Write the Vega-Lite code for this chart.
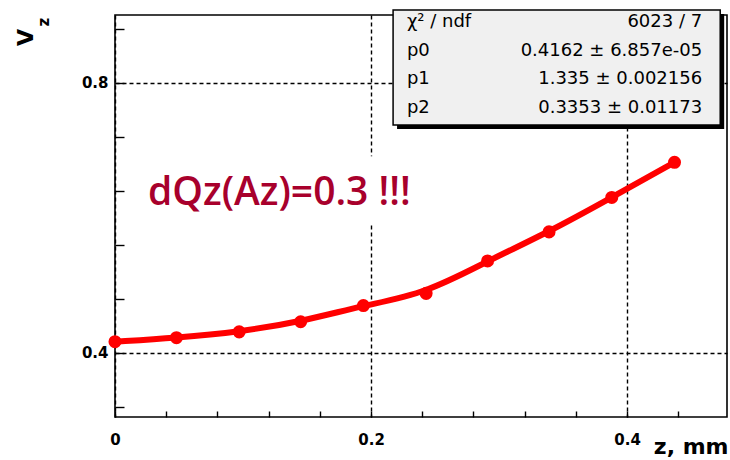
{
  "$schema": "https://vega.github.io/schema/vega-lite/v6.json",
  "width": 612,
  "height": 402,
  "autosize": "none",
  "padding": {"left": 115, "top": 15, "right": 3, "bottom": 43},
  "background": "white",
  "config": {
    "view": {"stroke": "black", "strokeWidth": 1.6},
    "axis": {"labelFlush": false, "labelOverlap": false}
  },
  "datasets": {
    "fit": [
      {"z": 0.0, "v": 0.4164},
      {"z": 0.048, "v": 0.4224},
      {"z": 0.097, "v": 0.431},
      {"z": 0.145, "v": 0.446},
      {"z": 0.194, "v": 0.470},
      {"z": 0.243, "v": 0.488},
      {"z": 0.291, "v": 0.536},
      {"z": 0.339, "v": 0.579},
      {"z": 0.388, "v": 0.630},
      {"z": 0.437, "v": 0.682}
    ],
    "stats": [
      {"names": ["χ² / ndf", "p0", "p1", "p2"],
       "vals": ["6023 / 7", "0.4162 ± 6.857e-05", "1.335 ± 0.002156", "0.3353 ± 0.01173"]}
    ],
    "note": [{"text": "dQz(Az)=0.3 !!!", "sub": "z"}]
  },
  "layer": [
    {
      "data": {"name": "note"},
      "mark": {"type": "rect", "fill": "white"},
      "encoding": {
        "x": {"datum": 0.01, "type": "quantitative"},
        "x2": {"datum": 0.31},
        "y": {"datum": 0.591, "type": "quantitative"},
        "y2": {"datum": 0.691}
      }
    },
    {
      "data": {"name": "fit"},
      "mark": {"type": "line", "color": "#ff0000", "strokeWidth": 6, "interpolate": "basis"},
      "encoding": {
        "x": {"field": "z", "type": "quantitative", "scale": {"domain": [0, 0.478], "nice": false, "zero": false},
          "axis": {"values": [0,0.02,0.04,0.06,0.08,0.1,0.12,0.14,0.16,0.18,0.2,0.22,0.24,0.26,0.28,0.3,0.32,0.34,0.36,0.38,0.4,0.42,0.44,0.46],
            "orient": "bottom",
            "labelExpr": "abs(datum.value*10 - round(datum.value*10)) < 0.001 ? (datum.value == 0 ? '0' : format(datum.value, '.1f')) : ''",
            "grid": true, "gridColor": "black", "gridDash": [4, 3], "gridWidth": 1.4,
            "gridOpacity": {"condition": {"test": "abs(datum.value*10 - round(datum.value*10)) < 0.001", "value": 1}, "value": 0},
            "ticks": true, "tickColor": "black", "tickWidth": 1.4, "tickSize": -6,
            "domain": false, "labelPadding": 21,
            "labelFont": "DejaVu Sans", "labelFontWeight": "bold", "labelFontSize": 15, "labelColor": "black",
            "title": "z, mm", "titleAnchor": "end", "titleAlign": "right", "titleX": 613, "titleY": 36,
            "titleBaseline": "alphabetic", "titleFont": "DejaVu Sans", "titleFontWeight": "bold",
            "titleFontSize": 22, "titleColor": "black"}},
        "y": {"field": "v", "type": "quantitative", "scale": {"domain": [0.305, 0.9], "nice": false, "zero": false},
          "axis": {"values": [0.32,0.34,0.36,0.38,0.4,0.42,0.44,0.46,0.48,0.5,0.52,0.54,0.56,0.58,0.6,0.62,0.64,0.66,0.68,0.7,0.72,0.74,0.76,0.78,0.8,0.82,0.84,0.86,0.88,0.9],
            "orient": "left",
            "labelExpr": "abs(datum.value*10 - round(datum.value*10)) < 0.001 ? format(datum.value, '.1f') : ''",
            "grid": true, "gridColor": "black", "gridDash": [4, 3], "gridWidth": 1.4,
            "gridOpacity": {"condition": {"test": "abs(datum.value*10 - round(datum.value*10)) < 0.001", "value": 1}, "value": 0},
            "ticks": true, "tickColor": "black", "tickWidth": 1.4, "tickSize": -9,
            "domain": false, "labelPadding": 16,
            "labelFont": "DejaVu Sans", "labelFontWeight": "bold", "labelFontSize": 15, "labelColor": "black",
            "title": "V", "titleX": -78, "titleY": 22, "titleAlign": "center", "titleBaseline": "bottom",
            "titleFont": "DejaVu Sans", "titleFontWeight": "bold", "titleFontSize": 22, "titleColor": "black"}}
      }
    },
    {
      "data": {"name": "fit"},
      "mark": {"type": "point", "filled": true, "color": "#ff0000", "opacity": 1, "size": 170},
      "encoding": {
        "x": {"field": "z", "type": "quantitative"},
        "y": {"field": "v", "type": "quantitative"}
      }
    },
    {
      "data": {"name": "note"},
      "mark": {"type": "rect", "fill": "black"},
      "encoding": {
        "x": {"datum": 0.2203, "type": "quantitative"},
        "x2": {"datum": 0.4758},
        "y": {"datum": 0.9015, "type": "quantitative"},
        "y2": {"datum": 0.7313}
      }
    },
    {
      "data": {"name": "note"},
      "mark": {"type": "rect", "fill": "#f0f0f0", "stroke": "black", "strokeWidth": 1.5},
      "encoding": {
        "x": {"datum": 0.2172, "type": "quantitative"},
        "x2": {"datum": 0.4727},
        "y": {"datum": 0.9074, "type": "quantitative"},
        "y2": {"datum": 0.7372}
      }
    },
    {
      "data": {"name": "stats"},
      "mark": {"type": "text", "align": "left", "baseline": "middle", "font": "DejaVu Sans", "fontSize": 18, "lineHeight": 28.5, "color": "black"},
      "encoding": {
        "x": {"datum": 0.228, "type": "quantitative"},
        "y": {"datum": 0.8896, "type": "quantitative"},
        "text": {"field": "names"}
      }
    },
    {
      "data": {"name": "stats"},
      "mark": {"type": "text", "align": "right", "baseline": "middle", "font": "DejaVu Sans", "fontSize": 18, "lineHeight": 28.5, "color": "black"},
      "encoding": {
        "x": {"datum": 0.4586, "type": "quantitative"},
        "y": {"datum": 0.8896, "type": "quantitative"},
        "text": {"field": "vals"}
      }
    },
    {
      "data": {"name": "note"},
      "mark": {"type": "text", "align": "left", "baseline": "alphabetic", "font": "Open Sans", "fontWeight": 600, "fontSize": 39, "color": "#a8002c"},
      "encoding": {
        "x": {"datum": 0.0258, "type": "quantitative"},
        "y": {"datum": 0.6188, "type": "quantitative"},
        "text": {"field": "text"}
      }
    },
    {
      "data": {"name": "note"},
      "mark": {"type": "text", "align": "center", "baseline": "middle", "angle": 270, "font": "DejaVu Sans", "fontWeight": "bold", "fontSize": 15, "color": "black"},
      "encoding": {
        "x": {"datum": -0.0555, "type": "quantitative"},
        "y": {"datum": 0.8896, "type": "quantitative"},
        "text": {"field": "sub"}
      }
    }
  ]
}
